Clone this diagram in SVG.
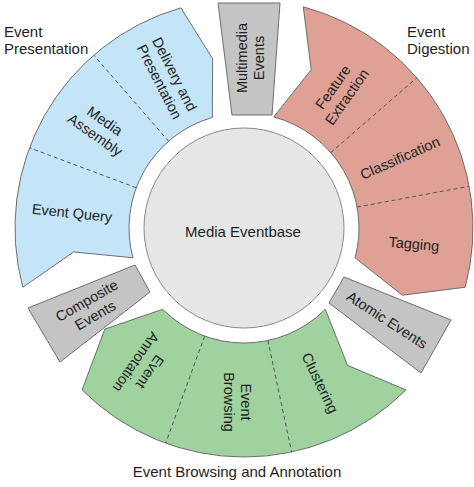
<svg xmlns="http://www.w3.org/2000/svg" width="474" height="487" viewBox="0 0 474 487">
<style>
text{font-family:"Liberation Sans",Arial,sans-serif;fill:#1e1e1e}
.lbl{font-size:14.5px;text-anchor:middle}
.ttl{font-size:15px}
.seg{stroke:#6e6e6e;stroke-width:1}
.blue{fill:#c4e4f8}
.red{fill:#dfa195}
.green{fill:#9fd29e}
.gray{fill:#c4c4c4;stroke:#6e6e6e;stroke-width:1}
.div{stroke:#555;stroke-width:1;stroke-dasharray:4 3;fill:none}
</style>
<rect width="474" height="487" fill="#fff"/>
<g id="event-presentation">
<path class="seg blue" d="M 22.80 287.27 L 73.67 251.94 L 132.92 257.76 A 115 115 0 0 1 212.30 117.46 L 212.65 58.88 L 180.88 7.87 A 229 229 0 0 0 22.80 287.27 Z"/>
<text class="ttl" x="4" y="37">Event</text>
<text class="ttl" x="4" y="54">Presentation</text>
</g>
<g id="event-digestion">
<path class="seg red" d="M 303.27 6.80 L 311.21 69.67 L 273.76 116.92 A 115 115 0 0 1 355.08 257.76 L 402.33 295.21 L 465.20 287.27 A 229 229 0 0 0 303.27 6.80 Z"/>
<text class="ttl" x="407" y="37">Event</text>
<text class="ttl" x="407" y="54">Digestion</text>
</g>
<g id="event-browsing-annotation">
<path class="seg green" d="M 405.93 389.93 L 347.51 365.37 L 325.32 309.32 A 115 115 0 0 1 162.68 309.32 L 104.85 329.10 L 82.07 389.93 A 229 229 0 0 0 405.93 389.93 Z"/>
<text class="ttl" x="237" y="477" text-anchor="middle">Event Browsing and Annotation</text>
</g>
<g id="dividers">
<line class="div" x1="136.28" y1="187.73" x2="29.50" y2="147.80"/>
<line class="div" x1="168.55" y1="141.21" x2="93.76" y2="55.17"/>
<line class="div" x1="330.79" y1="152.55" x2="416.83" y2="77.76"/>
<line class="div" x1="357.07" y1="207.04" x2="469.16" y2="186.27"/>
<line class="div" x1="267.91" y1="340.49" x2="291.61" y2="452.00"/>
<line class="div" x1="204.67" y1="336.06" x2="165.68" y2="443.19"/>
</g>
<g id="media-eventbase">
<circle cx="244" cy="228" r="100" fill="#e6e6e6" stroke="#8a8a8a" stroke-width="1"/>
<text x="243" y="237" font-size="15" text-anchor="middle">Media Eventbase</text>
</g>
<g id="event-query"><text class="lbl" transform="translate(72 213) rotate(6)" y="5">Event Query</text></g>
<g id="media-assembly"><text class="lbl" transform="translate(100 128) rotate(35)"><tspan x="0" y="-3.5">Media</tspan><tspan x="0" y="13.5">Assembly</tspan></text></g>
<g id="delivery-presentation"><text class="lbl" transform="translate(167 78) rotate(63)"><tspan x="0" y="-3.5">Delivery and</tspan><tspan x="0" y="13.5">Presentation</tspan></text></g>
<g id="feature-extraction"><text class="lbl" transform="translate(340 92) rotate(-55)"><tspan x="0" y="-3.5">Feature</tspan><tspan x="0" y="13.5">Extraction</tspan></text></g>
<g id="classification"><text class="lbl" transform="translate(400 158) rotate(-24)" y="5">Classification</text></g>
<g id="tagging"><text class="lbl" transform="translate(414 244) rotate(5)" y="5">Tagging</text></g>
<g id="clustering"><text class="lbl" transform="translate(320 383) rotate(64)" y="5">Clustering</text></g>
<g id="event-browsing"><text class="lbl" transform="translate(237 402) rotate(90)"><tspan x="0" y="-3.5">Event</tspan><tspan x="0" y="13.5">Browsing</tspan></text></g>
<g id="event-annotation"><text class="lbl" transform="translate(143 367) rotate(125)"><tspan x="0" y="-3.5">Event</tspan><tspan x="0" y="13.5">Annotation</tspan></text></g>
<g id="multimedia-events">
<polygon class="gray" points="218,3 280,3 272,115 232,115"/>
<text class="lbl" transform="translate(250 58) rotate(-90)"><tspan x="0" y="-3.5">Multimedia</tspan><tspan x="0" y="13.5">Events</tspan></text>
</g>
<g id="atomic-events">
<polygon class="gray" points="344,277 451,320 421,373 329,303"/>
<text class="lbl" transform="translate(387 320) rotate(33)" y="5">Atomic Events</text>
</g>
<g id="composite-events">
<polygon class="gray" points="135,265 150,292 60,362 28,308"/>
<text class="lbl" transform="translate(91 308) rotate(-30)"><tspan x="0" y="-3.5">Composite</tspan><tspan x="0" y="13.5">Events</tspan></text>
</g>
</svg>
